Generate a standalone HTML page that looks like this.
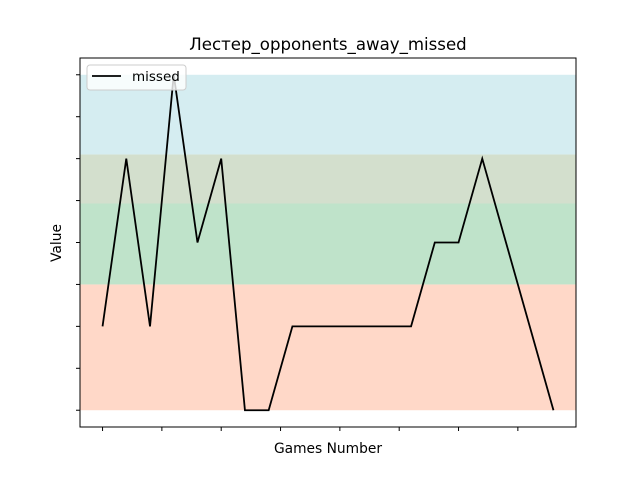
<!DOCTYPE html>
<html><head><meta charset="utf-8"><style>
body{margin:0;background:#fff;font-family:"DejaVu Sans","Liberation Sans",sans-serif;}
</style></head><body>
<svg width="640" height="480" viewBox="0 0 640 480" xmlns="http://www.w3.org/2000/svg" font-family="DejaVu Sans, Liberation Sans, sans-serif">
<g id="bands"></g>
<g id="ticks"></g>
<polyline id="line" fill="none" stroke="#000" stroke-width="1.8" stroke-linejoin="miter"/>
<rect x="80" y="58" width="496" height="369" fill="none" stroke="#000" stroke-width="1"/>
<text x="328" y="50" text-anchor="middle" font-size="16.6">Лестер_opponents_away_missed</text>
<text x="328" y="453" text-anchor="middle" font-size="13.8">Games Number</text>
<text x="61" y="243" text-anchor="middle" font-size="13.8" transform="rotate(-90 61 243)">Value</text>
<g>
<rect x="87" y="65" width="99" height="25" rx="3" fill="#fff" fill-opacity="0.8" stroke="#ccc"/>
<line x1="92" y1="76" x2="121" y2="76" stroke="#000" stroke-width="1.8"/>
<text x="132" y="81" font-size="13.5">missed</text>
</g>
</svg>
<script>
const values = [2,6,2,8,4,6,0,0,2,2,2,2,2,2,4,4,6,4,2,0];
const bandLows = [0,3,4.93,6.1];
const bandHighs = [3,4.93,6.1,8];
const bandColors = ["#ffd8c8","#bfe3ca","#d3dfcd","#d5edf1"];
const yTicks = [0,1,2,3,4,5,6,7,8];
const xTicks = [0,2.5,5,7.5,10,12.5,15,17.5];
const xs = i => 80 + (i + 0.95) * 496 / 20.9;
const ys = v => 427 - (v + 0.4) * 369 / 8.8;
const NS = "http://www.w3.org/2000/svg";
const bands = document.getElementById('bands');
bandLows.forEach((lo, i) => {
  const r = document.createElementNS(NS, 'rect');
  r.setAttribute('x', 80); r.setAttribute('width', 496);
  r.setAttribute('y', ys(bandHighs[i])); r.setAttribute('height', ys(lo) - ys(bandHighs[i]));
  r.setAttribute('fill', bandColors[i]);
  
  
  bands.appendChild(r);
});
const ticks = document.getElementById('ticks');
yTicks.forEach(t => {
  const l = document.createElementNS(NS, 'line');
  l.setAttribute('x1', 76); l.setAttribute('x2', 80);
  l.setAttribute('y1', ys(t)); l.setAttribute('y2', ys(t));
  l.setAttribute('stroke', '#000');
  
  
  ticks.appendChild(l);
});
xTicks.forEach(t => {
  const l = document.createElementNS(NS, 'line');
  l.setAttribute('x1', xs(t)); l.setAttribute('x2', xs(t));
  l.setAttribute('y1', 427); l.setAttribute('y2', 431);
  l.setAttribute('stroke', '#000');
  
  
  ticks.appendChild(l);
});
document.getElementById('line').setAttribute('points', values.map((v, i) => xs(i) + ',' + ys(v)).join(' '));
</script>
</body></html>
